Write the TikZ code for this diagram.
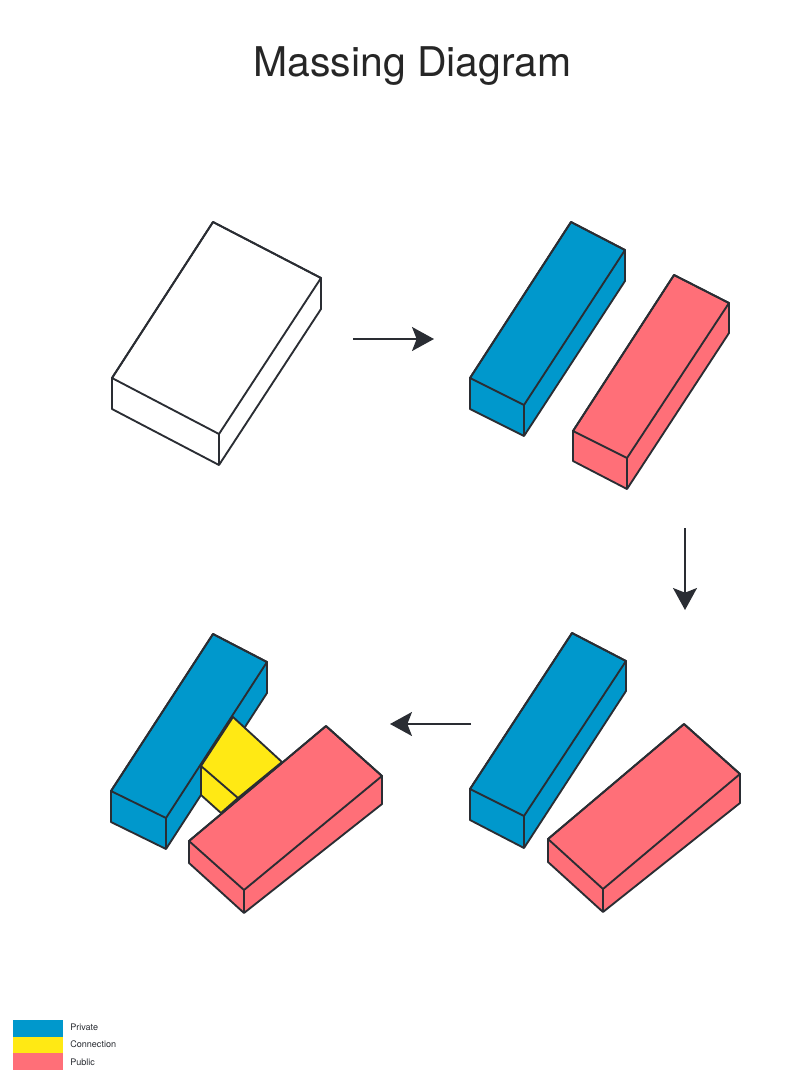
\documentclass[tikz,border=0pt]{standalone}
\usepackage{fontspec}
\setmainfont{TeX Gyre Heros}
\usetikzlibrary{arrows.meta}

\definecolor{privateblue}{HTML}{0098CC}
\definecolor{connectyellow}{HTML}{FFE914}
\definecolor{publicred}{HTML}{FF6F78}
\definecolor{inkdark}{HTML}{2A2D33}

% top face a-b-c-d, then the lower corners under b, c, d
\newcommand{\massbox}[8]{
  \draw [mass, fill=#1] #2 -- #3 -- #6 -- #7 -- #8 -- #5 -- cycle;
  \draw [mass] #2 -- #3 -- #4 -- #5 -- cycle;
  \draw [mass] #4 -- #7;
}

\begin{document}
\begin{tikzpicture}[x=0.75pt, y=-0.75pt]
\tikzset{ mass/.style={draw=inkdark, line width=1.4pt, line join=round},
  step arrow/.style={-{Stealth[length=16.5pt, width=18pt, inset=3.5pt]}, draw=inkdark, line width=1.3pt},
  swatch/.style={draw=none},
  key/.style={anchor=west, inner sep=0pt, font=\fontsize{6.8}{8}\selectfont, text=inkdark} }
\useasboundingbox (0,0) rectangle (800,1072);

\node [anchor=base, inner sep=0pt, font=\fontsize{30.7}{36}\selectfont, text=black!85] (title) at (412.5,76) {Massing Diagram};

% first block
\massbox{white}{(213,222)}{(321,278)}{(219,434)}{(112,378)}{(321,309)}{(219,465)}{(112,409)}

% split
\massbox{privateblue}{(571,222)}{(625,250)}{(524,405)}{(470,378)}{(625,281)}{(524,436)}{(470,409)}
\massbox{publicred}{(674,275)}{(729,303)}{(627,458)}{(573,431)}{(729,333)}{(627,489)}{(573,461)}

% rotated
\massbox{privateblue}{(572,633)}{(626,661)}{(524,816)}{(470,789)}{(626,691)}{(524,848)}{(470,820)}
\massbox{publicred}{(684,724)}{(740,774)}{(603,889)}{(548,839)}{(740,803)}{(603,912)}{(548,862)}

% connected
\massbox{privateblue}{(213,634)}{(267,662)}{(166,818)}{(111,791)}{(267,693)}{(166,849)}{(111,822)}
\draw [mass, fill=connectyellow] (233,717) -- (282,762) -- (238,798) -- (221,813) -- (201,795) -- (201,766) -- cycle;
\draw [mass] (201,766) -- (238,798);
\massbox{publicred}{(326,726)}{(382,776)}{(244,890)}{(189,841)}{(382,804)}{(244,913)}{(189,863)}

\coordinate (A1) at (353,339);
\coordinate (A2) at (434,339);
\coordinate (B1) at (685,528);
\coordinate (B2) at (685,610);
\coordinate (C1) at (471,724);
\coordinate (C2) at (390,724);

\draw [step arrow] (A1) -- (A2);
\draw [step arrow] (B1) -- (B2);
\draw [step arrow] (C1) -- (C2);

\fill [swatch, privateblue] (13,1020) rectangle (63,1036.5);
\fill [swatch, connectyellow] (13,1036.5) rectangle (63,1053);
\fill [swatch, publicred] (13,1053) rectangle (63,1070);

\node [key] (private) at (70,1027) {Private};
\node [key] (connection) at (70,1044) {Connection};
\node [key] (public) at (70,1062) {Public};

\end{tikzpicture}
\end{document}
